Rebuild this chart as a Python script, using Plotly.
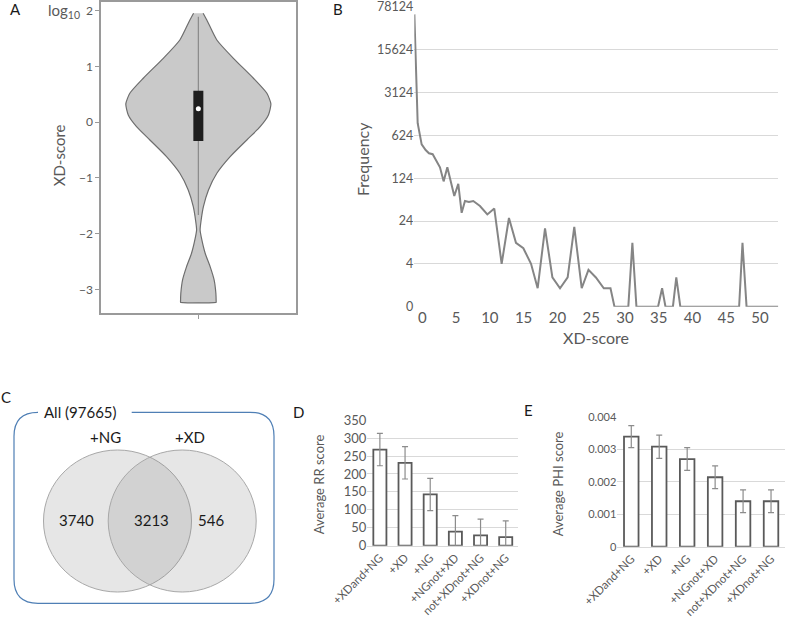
import math
import plotly.graph_objects as go

W, H = 787, 619
FONT = "Lato"
TICK = "#595959"
GRID = "#d9d9d9"

# ---------------- data ----------------
# Panel A: violin outline (log10 XD-score levels and relative density half-widths)
violin_y = [1.957, 1.836, 1.477, 1.148, 0.79, 0.52, 0.33, 0.13, -0.08, -0.318, -0.617,
            -0.916, -1.215, -1.515, -1.754, -1.934, -2.113, -2.352, -2.592, -2.831,
            -3.07, -3.221, -3.232]
violin_density = [0.049, 0.087, 0.19, 0.36, 0.566, 0.704, 0.745, 0.72, 0.635, 0.498, 0.327,
                  0.19, 0.104, 0.052, 0.029, 0.018, 0.036, 0.07, 0.121, 0.162,
                  0.18, 0.183, 0.183]
box_q1, box_q3, box_median = -0.336, 0.567, 0.244
whisker_low, whisker_high = -1.664, 1.896
a_ticks = [-3, -2, -1, 0, 1, 2]

# Panel B: frequency of XD-score
xd_score = [-1.17, -0.68, -0.09, 0.5, 0.99, 1.54, 2.62, 3.16, 3.71, 4.74, 5.33, 5.83, 6.32,
            6.91, 7.55, 8.54, 9.63, 10.66, 11.75, 12.83, 13.87, 14.96, 16.1, 17.08, 18.17,
            19.26, 20.39, 21.52, 22.5, 23.6, 24.6, 25.7, 26.87, 27.86, 28.45, 30.5, 31.1,
            31.7, 34.9, 35.5, 36.0, 37.1, 37.6, 38.2, 46.9, 47.4, 48.0, 52.7]
frequency = [59000, 985, 444, 360, 318, 307, 187, 110, 187, 63, 100, 33, 52,
             50, 52, 43, 31, 39, 4, 27, 10, 8, 4, 1, 18,
             2, 1, 2, 19, 1, 3, 2, 1, 1, 0, 0, 10,
             0, 0, 1, 0, 0, 2, 0, 0, 10, 0, 0]
freq_ticks = [0, 4, 24, 124, 624, 3124, 15624, 78124]
xd_ticks = [0, 5, 10, 15, 20, 25, 30, 35, 40, 45, 50]

# Panel C: Venn counts
venn_all = 97665
venn_ng_only = 3740
venn_both = 3213
venn_xd_only = 546

# Panels D & E
groups = ["+XDand+NG", "+XD", "+NG", "+NGnot+XD", "not+XDnot+NG", "+XDnot+NG"]
rr_score = [268, 231, 143, 39, 29, 24]
rr_err = [45, 45, 45, 45, 45, 45]
rr_ticks = [0, 50, 100, 150, 200, 250, 300, 350]
phi_score = [0.00339, 0.00308, 0.0027, 0.00214, 0.0014, 0.0014]
phi_err = [0.00034, 0.00036, 0.00035, 0.00035, 0.00035, 0.00035]
phi_ticks = [0, 0.001, 0.002, 0.003, 0.004]
phi_ticktext = ["0", "0.001", "0.002", "0.003", "0.004"]


def X(px):
    return px / W


def Y(py):
    return 1 - py / H


fig = go.Figure()

# ---------------- Panel A ----------------
vx = violin_density + [-d for d in reversed(violin_density)]
vy = violin_y + list(reversed(violin_y))
fig.add_trace(go.Scatter(x=vx, y=vy, mode="lines", fill="toself", fillcolor="#c9c9c9",
                         line=dict(color="#6e6e6e", width=1.2, shape="spline", smoothing=0.6),
                         xaxis="x", yaxis="y", hoverinfo="skip"))
fig.add_trace(go.Scatter(x=[0, 0], y=[whisker_low, whisker_high], mode="lines",
                         line=dict(color="#8a8a8a", width=1.2), xaxis="x", yaxis="y"))
fig.add_trace(go.Scatter(x=[0, 0], y=[box_q1, box_q3], mode="lines",
                         line=dict(color="#1e1e1e", width=10), xaxis="x", yaxis="y"))
fig.add_trace(go.Scatter(x=[0], y=[box_median], mode="markers",
                         marker=dict(color="white", size=5, symbol="circle"), xaxis="x", yaxis="y"))

# ---------------- Panel B ----------------
freq_log = [math.log(v + 1) / math.log(5) for v in frequency]
fig.add_trace(go.Scatter(x=xd_score, y=freq_log, mode="lines",
                         line=dict(color="#858585", width=2), xaxis="x2", yaxis="y2"))

# ---------------- Panel D ----------------
fig.add_trace(go.Bar(x=groups, y=rr_score, width=0.52,
                     marker=dict(color="white", line=dict(color="#5a5a5a", width=1.8)),
                     error_y=dict(type="data", array=rr_err, color="#8c8c8c", thickness=1.2, width=3),
                     xaxis="x3", yaxis="y3"))

# ---------------- Panel E ----------------
fig.add_trace(go.Bar(x=groups, y=phi_score, width=0.52,
                     marker=dict(color="white", line=dict(color="#5a5a5a", width=1.8)),
                     error_y=dict(type="data", array=phi_err, color="#8c8c8c", thickness=1.2, width=3),
                     xaxis="x4", yaxis="y4"))


def tickfont(s):
    return dict(family=FONT, size=s, color=TICK)


fig.update_layout(
    template="none",
    width=W, height=H, margin=dict(l=0, r=0, t=0, b=0, autoexpand=False),
    paper_bgcolor="white", plot_bgcolor="white", showlegend=False,
    font=dict(family=FONT),
    xaxis=dict(domain=[X(101), X(295.7)], range=[-1, 1], anchor="y", automargin=False,
               showline=True, mirror=True, linecolor="#9a9a9a", linewidth=1.5,
               tickvals=[0], showticklabels=False, ticks="outside", ticklen=4, tickcolor="#9a9a9a",
               showgrid=False, zeroline=False),
    yaxis=dict(domain=[Y(313.3), Y(1.7)], range=[-3.43, 2.165], anchor="x", automargin=False,
               showline=True, mirror=True, linecolor="#9a9a9a", linewidth=1.5,
               tickvals=a_ticks, ticks="outside", ticklen=4, tickcolor="#9a9a9a",
               tickfont=tickfont(12), showgrid=False, zeroline=False, ticklabeloverflow="allow"),
    xaxis2=dict(domain=[X(414.3), X(778.3)], range=[-1.18, 52.7], anchor="y2", automargin=False,
                tickvals=xd_ticks, tickfont=tickfont(15), showgrid=False, zeroline=False,
                showline=False, ticks="", ticklabeloverflow="allow"),
    yaxis2=dict(domain=[Y(306.7), Y(6.5)], range=[-0.0005, 7.01], anchor="x2", automargin=False,
                tickvals=[math.log(v + 1) / math.log(5) for v in freq_ticks],
                ticktext=[str(v) for v in freq_ticks], tickfont=tickfont(12.5),
                showgrid=True, gridcolor=GRID, gridwidth=1, zeroline=False, ticks="",
                ticklabeloverflow="allow"),
    xaxis3=dict(domain=[X(367.3), X(518.3)], anchor="y3", type="category", automargin=False,
                range=[-0.5, 5.5], tickangle=-45, tickfont=tickfont(11.5),
                showline=True, linecolor=GRID, ticks="", showgrid=False, ticklabeloverflow="allow"),
    yaxis3=dict(domain=[Y(545.7), Y(420)], range=[0, 350.5], anchor="x3", automargin=False,
                tickvals=rr_ticks, tickfont=tickfont(13), showgrid=True, gridcolor=GRID,
                zeroline=False, ticks=""),
    xaxis4=dict(domain=[X(617.3), X(785)], anchor="y4", type="category", automargin=False,
                range=[-0.5, 5.5], tickangle=-45, tickfont=tickfont(11.5),
                showline=True, linecolor=GRID, ticks="", showgrid=False, ticklabeloverflow="allow"),
    yaxis4=dict(domain=[Y(546.7), Y(416.7)], range=[0, 0.004005], anchor="x4", automargin=False,
                tickvals=phi_ticks, ticktext=phi_ticktext, tickfont=tickfont(11),
                showgrid=True, gridcolor=GRID, zeroline=False, ticks=""),
)

# ---------------- Panel C shapes ----------------
r = 24
L, R_, T, B_ = 14, 274, 412.3, 603.3


def P(x, y):
    return f"{X(x):.5f},{Y(y):.5f}"


path = (f"M {P(131.7, T)} L {P(R_ - r, T)} Q {P(R_, T)} {P(R_, T + r)} "
        f"L {P(R_, B_ - r)} Q {P(R_, B_)} {P(R_ - r, B_)} "
        f"L {P(L + r, B_)} Q {P(L, B_)} {P(L, B_ - r)} "
        f"L {P(L, T + r)} Q {P(L, T)} {P(L + r, T)} L {P(36.7, T)}")
fig.add_shape(type="path", path=path, xref="paper", yref="paper",
              line=dict(color="#4f7fb5", width=1.2))
for cx in (117.5, 182.2):
    fig.add_shape(type="circle", xref="paper", yref="paper",
                  x0=X(cx - 74), x1=X(cx + 74), y0=Y(521 + 71), y1=Y(521 - 71),
                  fillcolor="rgba(130,130,130,0.2)", line=dict(color="#a8a8a8", width=1))


def ann(x, y, text, size=15, color="#1a1a1a", angle=0, xanchor="center"):
    fig.add_annotation(x=X(x), y=Y(y), xref="paper", yref="paper", text=text,
                       showarrow=False, textangle=angle, xanchor=xanchor, yanchor="middle",
                       font=dict(family=FONT, size=size, color=color))


ann(80, 411.7, f"All ({venn_all})", 15)
ann(106, 437.3, "+NG", 15)
ann(190, 437.3, "+XD", 15)
ann(76, 520, str(venn_ng_only), 15)
ann(151.7, 520, str(venn_both), 15)
ann(211, 520, str(venn_xd_only), 15)

# panel letters
ann(15, 9, "A", 15)
ann(338, 9, "B", 15)
ann(6, 397, "C", 15)
ann(298, 412, "D", 15)
ann(528.3, 410, "E", 15)

# axis titles
ann(82, 11, "log<sub>10</sub>", 15, TICK, xanchor="right")
ann(59.3, 155, "XD-score", 15, TICK, angle=-90)
ann(363, 159, "Frequency", 16, TICK, angle=-90)
ann(596.3, 337, "XD-score", 16, TICK)
ann(319.3, 484, "Average RR score", 13, TICK, angle=-90)
ann(558.3, 484, "Average PHI score", 13, TICK, angle=-90)

fig.write_html("out.html", config={"displayModeBar": False},
               post_script="document.body.style.margin='0';document.body.style.overflow='hidden';")
